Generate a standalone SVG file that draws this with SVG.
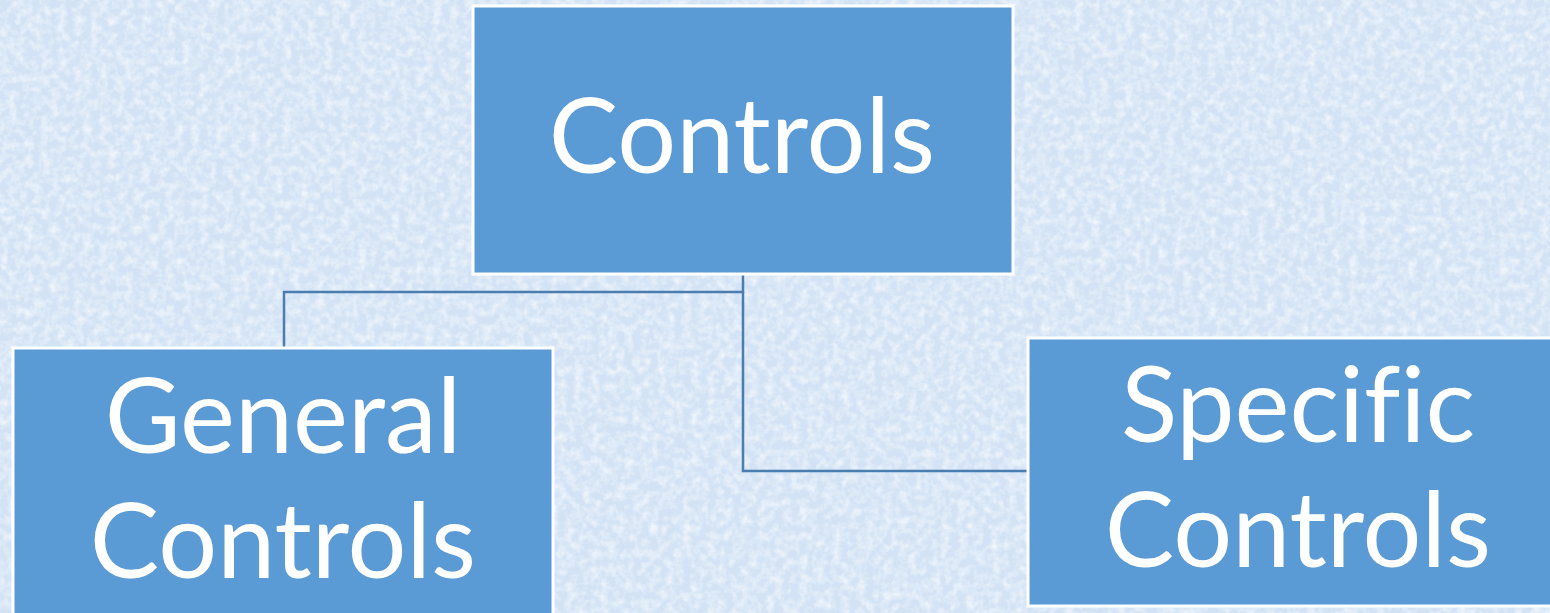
<svg xmlns="http://www.w3.org/2000/svg" width="1550" height="613" viewBox="0 0 1550 613">
<defs>
<filter id="tex" x="0" y="0" width="100%" height="100%">
<feTurbulence type="fractalNoise" baseFrequency="0.12" numOctaves="3" seed="4" result="n"/>
<feColorMatrix in="n" type="matrix" values="0 0 0 0 1  0 0 0 0 1  0 0 0 0 1  0 0 0 1.6 -0.6" result="w"/>
<feComposite in="w" in2="SourceGraphic" operator="in"/>
</filter>
<style>
.box{fill:#5b9bd5;stroke:#ffffff;stroke-width:3}
.lbl{font-family:Lato,"Open Sans",sans-serif;font-size:104px;fill:#ffffff;text-anchor:middle;font-variant-ligatures:none;font-feature-settings:"liga" 0}
.conn{fill:none;stroke:#4a7db0;stroke-width:2.5}
</style>
</defs>
<rect x="0" y="0" width="1550" height="613" fill="#d3e3f5"/>
<rect x="0" y="0" width="1550" height="613" fill="#d3e3f5" filter="url(#tex)" opacity="0.8"/>
<g id="connectors">
<polyline class="conn" points="743,275 743,292 284,292 284,348"/>
<polyline class="conn" points="743,292 743,471 1028,471"/>
</g>
<g id="node-controls">
<rect class="box" x="473" y="6" width="540" height="268"/>
<text class="lbl" x="742" y="173">Controls</text>
</g>
<g id="node-general">
<rect class="box" x="13" y="348" width="540" height="270"/>
<text class="lbl" x="283" y="453">General</text>
<text class="lbl" x="283" y="578">Controls</text>
</g>
<g id="node-specific">
<rect class="box" x="1028" y="338" width="540" height="268"/>
<text class="lbl" x="1298" y="442">Specific</text>
<text class="lbl" x="1298" y="567">Controls</text>
</g>
</svg>
